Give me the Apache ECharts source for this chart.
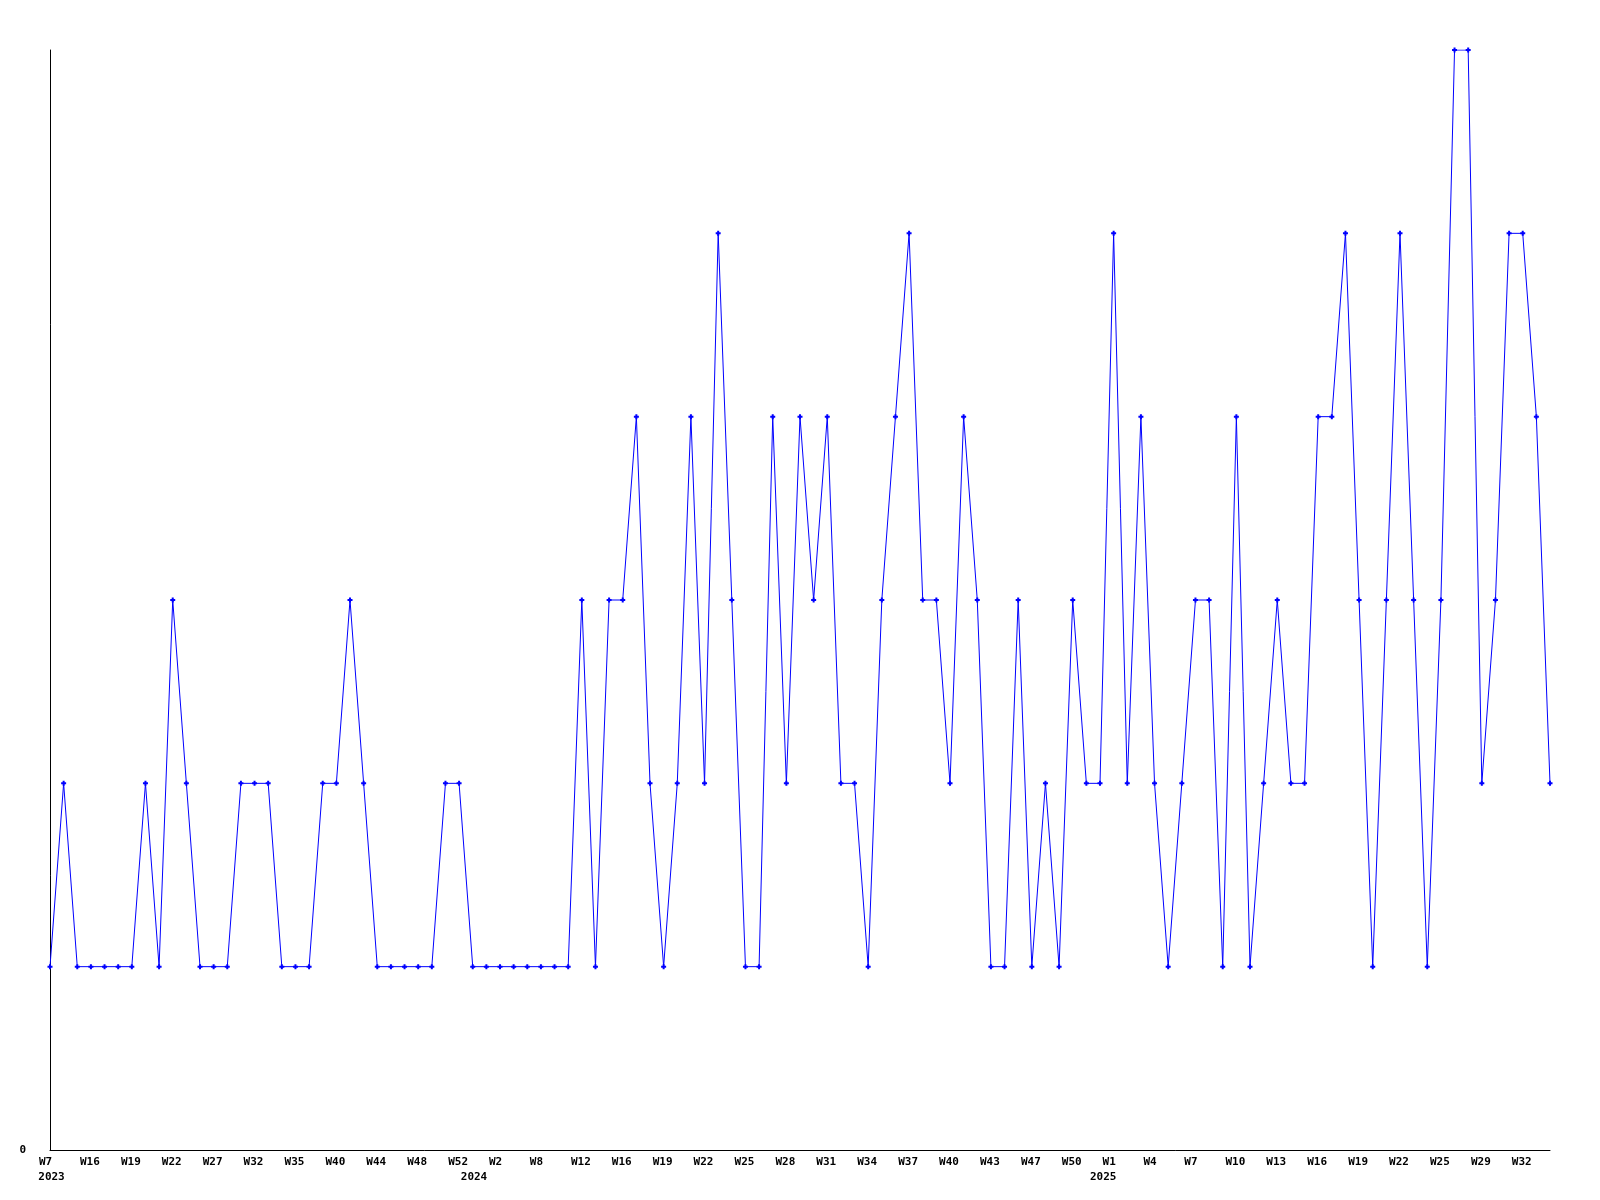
<!DOCTYPE html>
<html>
<head>
<meta charset="utf-8">
<script src="https://cdn.jsdelivr.net/npm/echarts@6/dist/echarts.min.js"></script>
<style>
html,body{margin:0;padding:0;background:#fff;}
#chart{width:1600px;height:1200px;}
</style>
</head>
<body>
<div id="chart"></div>
<script>
// Categories: one entry per data point (year-week)
const categories = [
  '2023-W7','2023-W10','2023-W13','2023-W16','2023-W17','2023-W18','2023-W19','2023-W20','2023-W21','2023-W22',
  '2023-W24','2023-W26','2023-W27','2023-W29','2023-W31','2023-W32','2023-W33','2023-W34','2023-W35','2023-W37',
  '2023-W38','2023-W40','2023-W41','2023-W43','2023-W44','2023-W45','2023-W47','2023-W48','2023-W49','2023-W51',
  '2023-W52','2023-W53','2024-W1','2024-W2','2024-W4','2024-W6','2024-W8','2024-W9','2024-W11','2024-W12',
  '2024-W14','2024-W15','2024-W16','2024-W17','2024-W18','2024-W19','2024-W20','2024-W21','2024-W22','2024-W23',
  '2024-W24','2024-W25','2024-W26','2024-W27','2024-W28','2024-W29','2024-W30','2024-W31','2024-W32','2024-W33',
  '2024-W34','2024-W35','2024-W36','2024-W37','2024-W38','2024-W39','2024-W40','2024-W41','2024-W42','2024-W43',
  '2024-W45','2024-W46','2024-W47','2024-W48','2024-W49','2024-W50','2024-W51','2024-W52','2025-W1','2025-W2',
  '2025-W3','2025-W4','2025-W5','2025-W6','2025-W7','2025-W8','2025-W9','2025-W10','2025-W11','2025-W12',
  '2025-W13','2025-W14','2025-W15','2025-W16','2025-W17','2025-W18','2025-W19','2025-W20','2025-W21','2025-W22',
  '2025-W23','2025-W24','2025-W25','2025-W26','2025-W27','2025-W29','2025-W30','2025-W31','2025-W32','2025-W33',
  '2025-W34'
];

// Series values
const counts = [
  1,2,1,1,1,1,1,2,1,3,
  2,1,1,1,2,2,2,1,1,1,
  2,2,3,2,1,1,1,1,1,2,
  2,1,1,1,1,1,1,1,1,3,
  1,3,3,4,2,1,2,4,2,5,
  3,1,1,4,2,4,3,4,2,2,
  1,3,4,5,3,3,2,4,3,1,
  1,3,1,2,1,3,2,2,5,2,
  4,2,1,2,3,3,1,4,1,2,
  3,2,2,4,4,5,3,1,3,5,
  3,1,3,6,6,2,3,5,5,4,
  2
];

// Y tick labels shown
const yTickLabels = ['0'];

const chart = echarts.init(document.getElementById('chart'), null, {renderer: 'canvas'});

const FONT = 'DejaVu Sans Mono';

const option = {
  animation: false,
  backgroundColor: '#ffffff',
  grid: {left: 50, right: 50, top: 50, bottom: 50, containLabel: false},
  xAxis: {
    type: 'category',
    data: categories,
    boundaryGap: false,
    axisLine: {show: true, lineStyle: {color: '#000000', width: 1}},
    axisTick: {show: false},
    splitLine: {show: false},
    axisLabel: {
      interval: 2,
      margin: 5,
      color: '#000000',
      fontFamily: FONT,
      fontWeight: 'bold',
      fontSize: 11,
      lineHeight: 15,
      formatter: function (value, index) {
        const parts = value.split('-');
        const year = parts[0];
        const week = parts[1];
        let s = '{w' + week.length + '|' + week + '}';
        const prevIdx = index - 3;
        const prevYear = prevIdx >= 0 ? categories[prevIdx].split('-')[0] : null;
        if (prevYear !== year) {
          s += '\n{y' + year + '|' + year + '}';
        }
        return s;
      },
      rich: {
        w2: {fontFamily: FONT, fontWeight: 'bold', fontSize: 11, lineHeight: 15, color: '#000', padding: [0, 9, 0, 0]},
        w3: {fontFamily: FONT, fontWeight: 'bold', fontSize: 11, lineHeight: 15, color: '#000', padding: [0, 2, 0, 0]},
        y2023: {fontFamily: FONT, fontWeight: 'bold', fontSize: 11, lineHeight: 15, color: '#000', padding: [0, 0, 0, 3]},
        y2024: {fontFamily: FONT, fontWeight: 'bold', fontSize: 11, lineHeight: 15, color: '#000', padding: [0, 52, 0, 0]},
        y2025: {fontFamily: FONT, fontWeight: 'bold', fontSize: 11, lineHeight: 15, color: '#000', padding: [0, 21, 0, 0]}
      }
    }
  },
  yAxis: {
    type: 'value',
    min: 0,
    max: 6,
    interval: 6,
    axisLine: {show: true, lineStyle: {color: '#000000', width: 1}},
    axisTick: {show: false},
    splitLine: {show: false},
    axisLabel: {
      margin: 24,
      color: '#000000',
      fontFamily: FONT,
      fontWeight: 'bold',
      fontSize: 11,
      formatter: function (v) { return v === 0 ? yTickLabels[0] : ''; }
    }
  },
  series: [{
    type: 'line',
    data: counts,
    showSymbol: true,
    showAllSymbol: true,
    symbol: 'path://M1.5,0H3.5V1.5H5V3.5H3.5V5H1.5V3.5H0V1.5H1.5Z',
    symbolSize: 5,
    lineStyle: {color: '#0000ff', width: 1},
    itemStyle: {color: '#0000ff', borderWidth: 0},
    emphasis: {disabled: true}
  }]
};

chart.setOption(option);
</script>
</body>
</html>
